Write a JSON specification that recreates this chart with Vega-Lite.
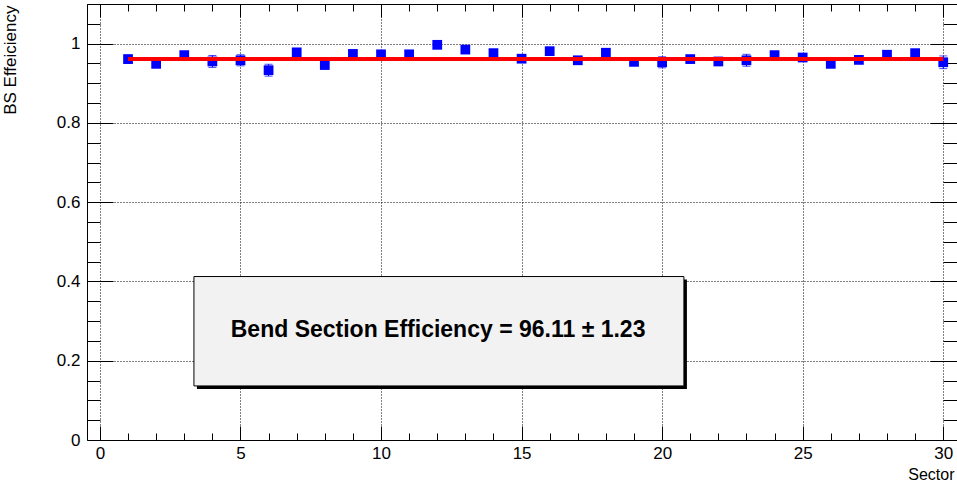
{
  "$schema": "https://vega.github.io/schema/vega-lite/v6.json",
  "width": 870,
  "height": 436,
  "autosize": {"type": "none"},
  "padding": {"left": 87, "top": 4, "right": 0, "bottom": 43},
  "background": "white",
  "config": {
    "view": {"stroke": "#000", "strokeWidth": 1},
    "font": "Liberation Sans",
    "axis": {"domain": false, "tickColor": "#000", "tickWidth": 1, "labelColor": "#000", "titleColor": "#000", "labelFont": "Liberation Sans", "titleFont": "Liberation Sans", "labelFontSize": 17, "titleFontSize": 17, "titleFontWeight": "normal", "labelFlush": false, "labelOverlap": false}
  },
  "datasets": {
    "pts": [
      {"sector": 1, "eff": 0.961, "lo": 0.951, "hi": 0.971},
      {"sector": 2, "eff": 0.949, "lo": 0.943, "hi": 0.955},
      {"sector": 3, "eff": 0.971, "lo": 0.965, "hi": 0.977},
      {"sector": 4, "eff": 0.955, "lo": 0.940, "hi": 0.970},
      {"sector": 5, "eff": 0.958, "lo": 0.944, "hi": 0.972},
      {"sector": 6, "eff": 0.933, "lo": 0.918, "hi": 0.948},
      {"sector": 7, "eff": 0.978, "lo": 0.970, "hi": 0.986},
      {"sector": 8, "eff": 0.946, "lo": 0.938, "hi": 0.954},
      {"sector": 9, "eff": 0.974, "lo": 0.968, "hi": 0.980},
      {"sector": 10, "eff": 0.973, "lo": 0.967, "hi": 0.979},
      {"sector": 11, "eff": 0.973, "lo": 0.967, "hi": 0.979},
      {"sector": 12, "eff": 0.997, "lo": 0.991, "hi": 1.003},
      {"sector": 13, "eff": 0.985, "lo": 0.977, "hi": 0.993},
      {"sector": 14, "eff": 0.976, "lo": 0.970, "hi": 0.982},
      {"sector": 15, "eff": 0.962, "lo": 0.954, "hi": 0.970},
      {"sector": 16, "eff": 0.981, "lo": 0.973, "hi": 0.989},
      {"sector": 17, "eff": 0.958, "lo": 0.950, "hi": 0.966},
      {"sector": 18, "eff": 0.977, "lo": 0.969, "hi": 0.985},
      {"sector": 19, "eff": 0.954, "lo": 0.946, "hi": 0.962},
      {"sector": 20, "eff": 0.953, "lo": 0.939, "hi": 0.967},
      {"sector": 21, "eff": 0.961, "lo": 0.953, "hi": 0.969},
      {"sector": 22, "eff": 0.955, "lo": 0.947, "hi": 0.963},
      {"sector": 23, "eff": 0.958, "lo": 0.943, "hi": 0.973},
      {"sector": 24, "eff": 0.971, "lo": 0.965, "hi": 0.977},
      {"sector": 25, "eff": 0.965, "lo": 0.957, "hi": 0.973},
      {"sector": 26, "eff": 0.949, "lo": 0.943, "hi": 0.955},
      {"sector": 27, "eff": 0.959, "lo": 0.951, "hi": 0.967},
      {"sector": 28, "eff": 0.972, "lo": 0.966, "hi": 0.978},
      {"sector": 29, "eff": 0.976, "lo": 0.970, "hi": 0.982},
      {"sector": 30, "eff": 0.953, "lo": 0.937, "hi": 0.969}
    ],
    "fit": [{"from": 1, "to": 30, "mean": 0.9611}],
    "box": [{"x1": 3.344, "x2": 20.775, "y1": 0.4124, "y2": 0.1364, "tx": 12.03, "ty": 0.278, "label": "Bend Section Efficiency = 96.11 ± 1.23"}]
  },
  "resolve": {"axis": {"x": "independent", "y": "independent"}},
  "layer": [
    {
      "data": {"name": "box"},
      "mark": {"type": "rect", "color": "#000", "xOffset": 3, "x2Offset": 3, "yOffset": 3, "y2Offset": 3},
      "encoding": {
        "x": {"field": "x1", "type": "quantitative", "scale": {"domain": [-0.46, 30.49], "nice": false, "zero": false},
          "axis": {
            "orient": "bottom",
            "values": [0,1,2,3,4,5,6,7,8,9,10,11,12,13,14,15,16,17,18,19,20,21,22,23,24,25,26,27,28,29,30],
            "labelExpr": "datum.value % 5 === 0 ? datum.label : ''",
            "tickSize": {"condition": {"test": "datum.value % 5 === 0", "value": -14}, "value": -7},
            "grid": true, "gridColor": "#000", "gridDash": [1, 2], "gridWidth": 1,
            "gridOpacity": {"condition": {"test": "datum.value % 5 === 0", "value": 1}, "value": 0},
            "labelPadding": 19, "labelBaseline": "top",
            "title": "Sector", "titleAnchor": "end", "titleAlign": "right", "titleX": 867, "titleY": 39, "titleBaseline": "alphabetic", "titleFontSize": 16
          }},
        "x2": {"field": "x2"},
        "y": {"field": "y1", "type": "quantitative", "scale": {"domain": [0, 1.1], "nice": false, "zero": false},
          "axis": {
            "orient": "left",
            "values": [0,0.05,0.1,0.15,0.2,0.25,0.3,0.35,0.4,0.45,0.5,0.55,0.6,0.65,0.7,0.75,0.8,0.85,0.9,0.95,1,1.05,1.1],
            "format": "~g",
            "labelExpr": "abs(datum.value*5 - round(datum.value*5)) < 1e-6 ? datum.label : ''",
            "tickSize": {"condition": {"test": "abs(datum.value*5 - round(datum.value*5)) < 1e-6", "value": -26}, "value": -13},
            "grid": true, "gridColor": "#000", "gridDash": [1, 2], "gridWidth": 1,
            "gridOpacity": {"condition": {"test": "abs(datum.value*5 - round(datum.value*5)) < 1e-6 && datum.value > 0", "value": 1}, "value": 0},
            "labelPadding": 33,
            "title": "BS Effeiciency", "titleAnchor": "end", "titleAngle": -90, "titleAlign": "right", "titleBaseline": "middle", "titleX": -77, "titleY": 1
          }},
        "y2": {"field": "y2"}
      }
    },
    {
      "data": {"name": "box"},
      "mark": {"type": "rect", "fill": "#f2f2f2", "stroke": "#000", "strokeWidth": 1},
      "encoding": {
        "x": {"field": "x1", "type": "quantitative", "scale": {"domain": [-0.46, 30.49], "nice": false, "zero": false}, "axis": null},
        "x2": {"field": "x2"},
        "y": {"field": "y1", "type": "quantitative", "scale": {"domain": [0, 1.1], "nice": false, "zero": false}, "axis": null},
        "y2": {"field": "y2"}
      }
    },
    {
      "data": {"name": "box"},
      "mark": {"type": "text", "font": "Liberation Sans", "fontSize": 23, "fontWeight": "bold", "color": "#000", "align": "center", "baseline": "middle"},
      "encoding": {
        "x": {"field": "tx", "type": "quantitative", "scale": {"domain": [-0.46, 30.49], "nice": false, "zero": false}, "axis": null},
        "y": {"field": "ty", "type": "quantitative", "scale": {"domain": [0, 1.1], "nice": false, "zero": false}, "axis": null},
        "text": {"field": "label"}
      }
    },
    {
      "data": {"name": "pts"},
      "mark": {"type": "rule", "color": "#0000ff", "strokeWidth": 1},
      "encoding": {
        "x": {"field": "sector", "type": "quantitative", "scale": {"domain": [-0.46, 30.49], "nice": false, "zero": false}, "axis": null},
        "y": {"field": "lo", "type": "quantitative", "scale": {"domain": [0, 1.1], "nice": false, "zero": false}, "axis": null},
        "y2": {"field": "hi"}
      }
    },
    {
      "data": {"name": "pts"},
      "mark": {"type": "tick", "orient": "horizontal", "color": "#0000ff", "size": 8, "thickness": 1},
      "encoding": {
        "x": {"field": "sector", "type": "quantitative", "scale": {"domain": [-0.46, 30.49], "nice": false, "zero": false}, "axis": null},
        "y": {"field": "lo", "type": "quantitative", "scale": {"domain": [0, 1.1], "nice": false, "zero": false}, "axis": null}
      }
    },
    {
      "data": {"name": "pts"},
      "mark": {"type": "tick", "orient": "horizontal", "color": "#0000ff", "size": 8, "thickness": 1},
      "encoding": {
        "x": {"field": "sector", "type": "quantitative", "scale": {"domain": [-0.46, 30.49], "nice": false, "zero": false}, "axis": null},
        "y": {"field": "hi", "type": "quantitative", "scale": {"domain": [0, 1.1], "nice": false, "zero": false}, "axis": null}
      }
    },
    {
      "data": {"name": "pts"},
      "mark": {"type": "point", "shape": "square", "filled": true, "size": 95, "color": "#0000ff", "opacity": 1},
      "encoding": {
        "x": {"field": "sector", "type": "quantitative", "scale": {"domain": [-0.46, 30.49], "nice": false, "zero": false}, "axis": null},
        "y": {"field": "eff", "type": "quantitative", "scale": {"domain": [0, 1.1], "nice": false, "zero": false}, "axis": null}
      }
    },
    {
      "data": {"name": "fit"},
      "mark": {"type": "rule", "color": "#ff0000", "strokeWidth": 4},
      "encoding": {
        "x": {"field": "from", "type": "quantitative", "scale": {"domain": [-0.46, 30.49], "nice": false, "zero": false},
          "axis": {
            "orient": "top",
            "values": [0,1,2,3,4,5,6,7,8,9,10,11,12,13,14,15,16,17,18,19,20,21,22,23,24,25,26,27,28,29,30],
            "labels": false, "grid": false, "title": null,
            "tickSize": {"condition": {"test": "datum.value % 5 === 0", "value": -13}, "value": -7}
          }},
        "x2": {"field": "to"},
        "y": {"field": "mean", "type": "quantitative", "scale": {"domain": [0, 1.1], "nice": false, "zero": false},
          "axis": {
            "orient": "right",
            "values": [0,0.05,0.1,0.15,0.2,0.25,0.3,0.35,0.4,0.45,0.5,0.55,0.6,0.65,0.7,0.75,0.8,0.85,0.9,0.95,1,1.05,1.1],
            "labels": false, "grid": false, "title": null,
            "tickSize": {"condition": {"test": "abs(datum.value*5 - round(datum.value*5)) < 1e-6", "value": -27}, "value": -14}
          }}
      }
    }
  ]
}
